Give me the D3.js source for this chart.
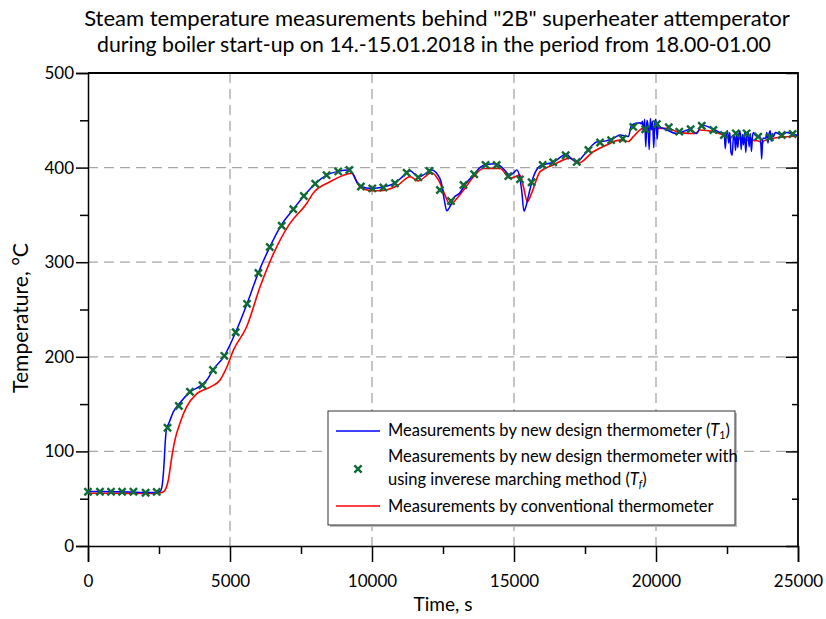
<!DOCTYPE html>
<html>
<head>
<meta charset="utf-8">
<script src="https://cdn.jsdelivr.net/npm/d3@7"></script>
<style>
  body { margin: 0; background: #fff; }
  svg { display: block; }
  text { font-family: Lato, "Noto Sans", sans-serif; fill: #000; }
</style>
</head>
<body>
<svg id="chart" width="826" height="619"></svg>
<script>
// ---- Data -------------------------------------------------------------
const titleLines = [
  'Steam temperature measurements behind "2B" superheater attemperator',
  'during boiler start-up on 14.-15.01.2018 in the period from 18.00-01.00'
];
const xLabel = "Time, s";
const yLabel = "Temperature, °C";
const xTicks = [0, 5000, 10000, 15000, 20000, 25000];
const yTicks = [0, 100, 200, 300, 400, 500];

// New design thermometer, T1 (time in s, temperature in °C)
const t1Time = [0, 500, 1000, 1500, 2000, 2400, 2550, 2620, 2680, 2720, 2760, 2850, 3010, 3240, 3600, 4000, 4200, 4400, 4800, 5200, 5600, 6000, 6400, 6800, 7230, 7600, 8000, 8400, 8800, 9200, 9350, 9460, 9610, 10000, 10400, 10800, 11100, 11340, 11630, 11800, 12100, 12300, 12450, 12550, 12630, 12750, 12870, 13080, 13330, 13600, 13800, 14000, 14370, 14620, 14860, 15000, 15100, 15200, 15270, 15350, 15430, 15500, 15680, 15920, 16380, 16850, 17000, 17210, 17450, 17620, 17910, 18200, 18500, 18730, 19030, 19140, 19440, 19480, 19520, 19560, 19600, 19640, 19680, 19720, 19760, 19800, 19840, 19880, 19920, 19960, 20000, 20040, 20080, 20120, 20300, 20730, 21160, 21430, 21600, 22000, 22380, 22400, 22440, 22480, 22520, 22560, 22600, 22640, 22680, 22720, 22760, 22800, 22840, 22880, 22920, 22960, 23000, 23040, 23080, 23120, 23160, 23200, 23240, 23280, 23320, 23360, 23400, 23440, 23500, 23600, 23680, 23720, 23760, 23860, 23900, 23940, 23980, 24020, 24060, 24100, 24140, 24200, 24430, 24600, 24810, 25000];
const t1Temp = [57.5, 57.5, 57.3, 57, 56.5, 56.5, 58, 66, 88, 110, 123, 130, 142, 151.5, 163, 170, 176, 186, 201, 226, 256, 289, 316, 339, 356, 370, 383, 392, 396, 397.5, 392, 385, 380, 378, 379.5, 383.5, 391, 396.8, 390, 392, 397.5, 393, 383, 365, 354.5, 359, 367.5, 373, 384, 393, 400, 403, 404, 399, 392, 395, 397.5, 390, 376, 354, 360, 369, 390, 401.7, 405.6, 414, 410, 406, 413, 419, 427, 428, 431, 434.5, 433, 445, 447.5, 446, 449, 438, 451, 422, 450, 444, 419, 452, 440, 449, 421, 447, 451, 430, 446, 443, 441, 436, 440, 436, 445, 441, 436, 437, 420, 436, 439, 426, 437, 416, 413, 430, 435, 418, 437, 421, 436, 439, 419, 435, 424, 437, 416, 433, 438, 422, 436, 417, 434, 437, 434, 433, 432, 409, 431, 431, 437, 426, 436, 439, 428, 436, 433, 437, 434.5, 437, 435.5, 434];

// New design thermometer with inverse marching method, Tf
const tfTime = [0, 420, 810, 1200, 1600, 2030, 2420, 2800, 3200, 3590, 4030, 4400, 4800, 5200, 5600, 6000, 6400, 6820, 7230, 7600, 8000, 8400, 8810, 9200, 9610, 10010, 10400, 10810, 11220, 11630, 12020, 12390, 12780, 13220, 13600, 14000, 14390, 14800, 15210, 15620, 16010, 16380, 16820, 17210, 17620, 18030, 18420, 18830, 19200, 19620, 20030, 20450, 20820, 21220, 21610, 22020, 22390, 22810, 23190, 23600, 24010, 24430, 24810];
const tfTemp = [57.4, 57.4, 57.4, 57.4, 57.4, 56.3, 57.2, 125, 148, 163, 170, 186, 201, 226, 256, 288.6, 316, 338.6, 356, 370, 383, 392, 396, 397.5, 380, 378, 379, 383.4, 394.6, 389.7, 396.4, 376.3, 364.7, 381.6, 392.9, 402.7, 402.7, 391, 387.6, 384.5, 402.7, 405.6, 413, 406, 418.6, 426.5, 429, 430.5, 443, 440.5, 446, 442.6, 438, 440.5, 444.3, 439.7, 434.5, 436.2, 436.2, 432.7, 432, 434.5, 435.5];

// Conventional thermometer
const convTime = [0, 1000, 2000, 2450, 2600, 2710, 2830, 2950, 3060, 3240, 3470, 3830, 4300, 4650, 4900, 5120, 5590, 6060, 6530, 7110, 7700, 7930, 8520, 9110, 9300, 9420, 9580, 10010, 10280, 10870, 11340, 11630, 12100, 12340, 12570, 12750, 12920, 13220, 13570, 13920, 14510, 14860, 15210, 15330, 15470, 15620, 15920, 16380, 16970, 17260, 17790, 18260, 18730, 19030, 19200, 19550, 19960, 20380, 20850, 21380, 21550, 22020, 22480, 22600, 22700, 22800, 22900, 23000, 23080, 23200, 23300, 23430, 23660, 23720, 23780, 24130, 25000];
const convTemp = [55.7, 55.7, 55.5, 55.7, 56.5, 59, 70, 94, 112, 130, 147, 161, 168, 175.5, 190, 207, 232, 274, 309, 341, 362, 373, 385, 393, 394, 388, 379.5, 375.6, 375.6, 380.5, 390.4, 386, 394.6, 387, 371, 360.5, 365, 376, 390, 399, 399, 388.7, 392, 380, 364, 373, 395.7, 402.7, 410, 404.5, 416.8, 424, 429, 427.6, 432.7, 441.5, 441.5, 441.5, 437, 436, 439.7, 438, 432.7, 430.5, 433, 429.5, 432, 429, 430.5, 428.5, 431, 429, 427.6, 424, 428, 431, 433.4];

const legendLabels = [
  ["Measurements by new design thermometer (", "T", "1", ")"],
  ["Measurements by new design thermometer with"],
  ["using inverese marching method (", "T", "f", ")"],
  ["Measurements by conventional thermometer"]
];

// ---- Layout -----------------------------------------------------------
const svg = d3.select("#chart");
const plot = { left: 88, right: 798, top: 73, bottom: 546 };

const x = d3.scaleLinear().domain([0, 25000]).range([plot.left, plot.right]);
const y = d3.scaleLinear().domain([0, 500]).range([plot.bottom, plot.top]);

function fitFont(sel, target, base) {
  sel.attr("font-size", base);
  const w = sel.node().getComputedTextLength();
  sel.attr("font-size", (base * target / w).toFixed(2));
}

// Title
const t1 = svg.append("text").attr("x", 437).attr("y", 26).attr("text-anchor", "middle").text(titleLines[0]);
fitFont(t1, 706, 20);
const t2 = svg.append("text").attr("x", 434).attr("y", 52).attr("text-anchor", "middle").text(titleLines[1]);
fitFont(t2, 674, 20);

// Grid
const grid = svg.append("g").attr("stroke", "#a6a6a6").attr("stroke-width", 1.3).attr("stroke-dasharray", "10,6");
grid.selectAll("line.v").data(xTicks.slice(1, -1)).join("line")
  .attr("x1", d => x(d)).attr("x2", d => x(d)).attr("y1", plot.top).attr("y2", plot.bottom);
grid.selectAll("line.h").data(yTicks.slice(1, -1)).join("line")
  .attr("x1", plot.left).attr("x2", plot.right).attr("y1", d => y(d)).attr("y2", d => y(d));

// Axes
const xMinor = d3.range(2500, 25000, 5000);
const yMinor = d3.range(50, 500, 100);
const axisFont = 17;

const gx = svg.append("g").attr("transform", `translate(0,${plot.bottom})`)
  .call(d3.axisBottom(x).tickValues(xTicks).tickSize(16).tickPadding(10).tickFormat(d3.format("d")));
svg.append("g").attr("transform", `translate(0,${plot.bottom})`)
  .call(d3.axisBottom(x).tickValues(xMinor).tickSize(8).tickFormat(""))
  .call(g => g.select(".domain").remove());
const gy = svg.append("g").attr("transform", `translate(${plot.left},0)`)
  .call(d3.axisLeft(y).tickValues(yTicks).tickSize(12).tickPadding(2).tickFormat(d3.format("d")));
svg.append("g").attr("transform", `translate(${plot.left},0)`)
  .call(d3.axisLeft(y).tickValues(yMinor).tickSize(8).tickFormat(""))
  .call(g => g.select(".domain").remove());
// right axis with inward ticks
svg.append("g").attr("transform", `translate(${plot.right},0)`)
  .call(d3.axisLeft(y).tickValues(yTicks).tickSize(12).tickFormat(""))
  .call(g => g.select(".domain").remove());
svg.append("g").attr("transform", `translate(${plot.right},0)`)
  .call(d3.axisLeft(y).tickValues(yMinor).tickSize(6).tickFormat(""))
  .call(g => g.select(".domain").remove());

svg.selectAll(".tick line").attr("stroke", "#000").attr("stroke-width", 1.5);
svg.selectAll(".domain").attr("stroke", "#000").attr("stroke-width", 1.5);
svg.selectAll(".tick text").attr("font-family", "Lato, 'Noto Sans', sans-serif").attr("font-size", axisFont).attr("fill", "#000");
gx.selectAll(".tick text").attr("dy", "0.9em");

// frame (top and right)
svg.append("path")
  .attr("d", `M${plot.left},${plot.top}H${plot.right}V${plot.bottom}`)
  .attr("fill", "none").attr("stroke", "#000").attr("stroke-width", 1.8);

// Axis titles
const xl = svg.append("text").attr("x", 443).attr("y", 611).attr("text-anchor", "middle").text(xLabel);
fitFont(xl, 59, 18);
const yl = svg.append("text").attr("transform", "translate(28,318) rotate(-90)").attr("text-anchor", "middle").text(yLabel);
fitFont(yl, 150, 18);

// ---- Series ------------------------------------------------------------
svg.append("clipPath").attr("id", "plotclip").append("rect")
  .attr("x", plot.left).attr("y", plot.top).attr("width", plot.right - plot.left).attr("height", plot.bottom - plot.top);

const line = d3.line().x(d => x(d[0])).y(d => y(d[1])).curve(d3.curveMonotoneX);
const series = svg.append("g").attr("clip-path", "url(#plotclip)");

series.append("path")
  .datum(d3.zip(convTime, convTemp))
  .attr("d", line).attr("fill", "none").attr("stroke", "#ff0000").attr("stroke-width", 1.6);

series.append("path")
  .datum(d3.zip(t1Time, t1Temp))
  .attr("d", line).attr("fill", "none").attr("stroke", "#0000ff").attr("stroke-width", 1.5);

// Tf markers: bold "x"
const crossPath = "M-3.6,-3.6L3.6,3.6M-3.6,3.6L3.6,-3.6";
const markerColor = "#0f6b35";
svg.append("g").selectAll("path").data(d3.zip(tfTime, tfTemp)).join("path")
  .attr("transform", d => `translate(${x(d[0])},${y(d[1])})`)
  .attr("d", crossPath).attr("fill", "none").attr("stroke", markerColor).attr("stroke-width", 2.4);

// ---- Legend -------------------------------------------------------------
const lg = svg.append("g");
lg.append("rect").attr("x", 330).attr("y", 413).attr("width", 407).attr("height", 114).attr("fill", "#bdbdbd");
lg.append("rect").attr("x", 328).attr("y", 411).attr("width", 407).attr("height", 114)
  .attr("fill", "#fff").attr("stroke", "#333").attr("stroke-width", 1);

lg.append("line").attr("x1", 336).attr("x2", 380).attr("y1", 431).attr("y2", 431).attr("stroke", "#0000ff").attr("stroke-width", 1.5);
lg.append("path").attr("transform", "translate(358,469)").attr("d", crossPath)
  .attr("fill", "none").attr("stroke", markerColor).attr("stroke-width", 2.4);
lg.append("line").attr("x1", 336).attr("x2", 380).attr("y1", 506).attr("y2", 506).attr("stroke", "#ff0000").attr("stroke-width", 1.5);

const legendY = [436, 462, 485, 512];
const lt = legendLabels.map((parts, i) => {
  const t = lg.append("text").attr("x", 388).attr("y", legendY[i]).attr("font-size", 15);
  t.append("tspan").text(parts[0]);
  if (parts.length > 1) {
    t.append("tspan").attr("font-style", "italic").text(parts[1]);
    t.append("tspan").attr("font-size", "0.65em").attr("dy", "0.3em")
      .attr("font-style", parts[2] === "f" ? "italic" : "normal").text(parts[2]);
    t.append("tspan").attr("dy", "-0.195em").text(parts[3]);
  }
  return t;
});
// scale legend font so the first entry spans its measured width
const w0 = lt[0].node().getComputedTextLength();
const lf = (15 * 342 / w0).toFixed(2);
lt.forEach(t => t.attr("font-size", lf));
</script>
</body>
</html>
